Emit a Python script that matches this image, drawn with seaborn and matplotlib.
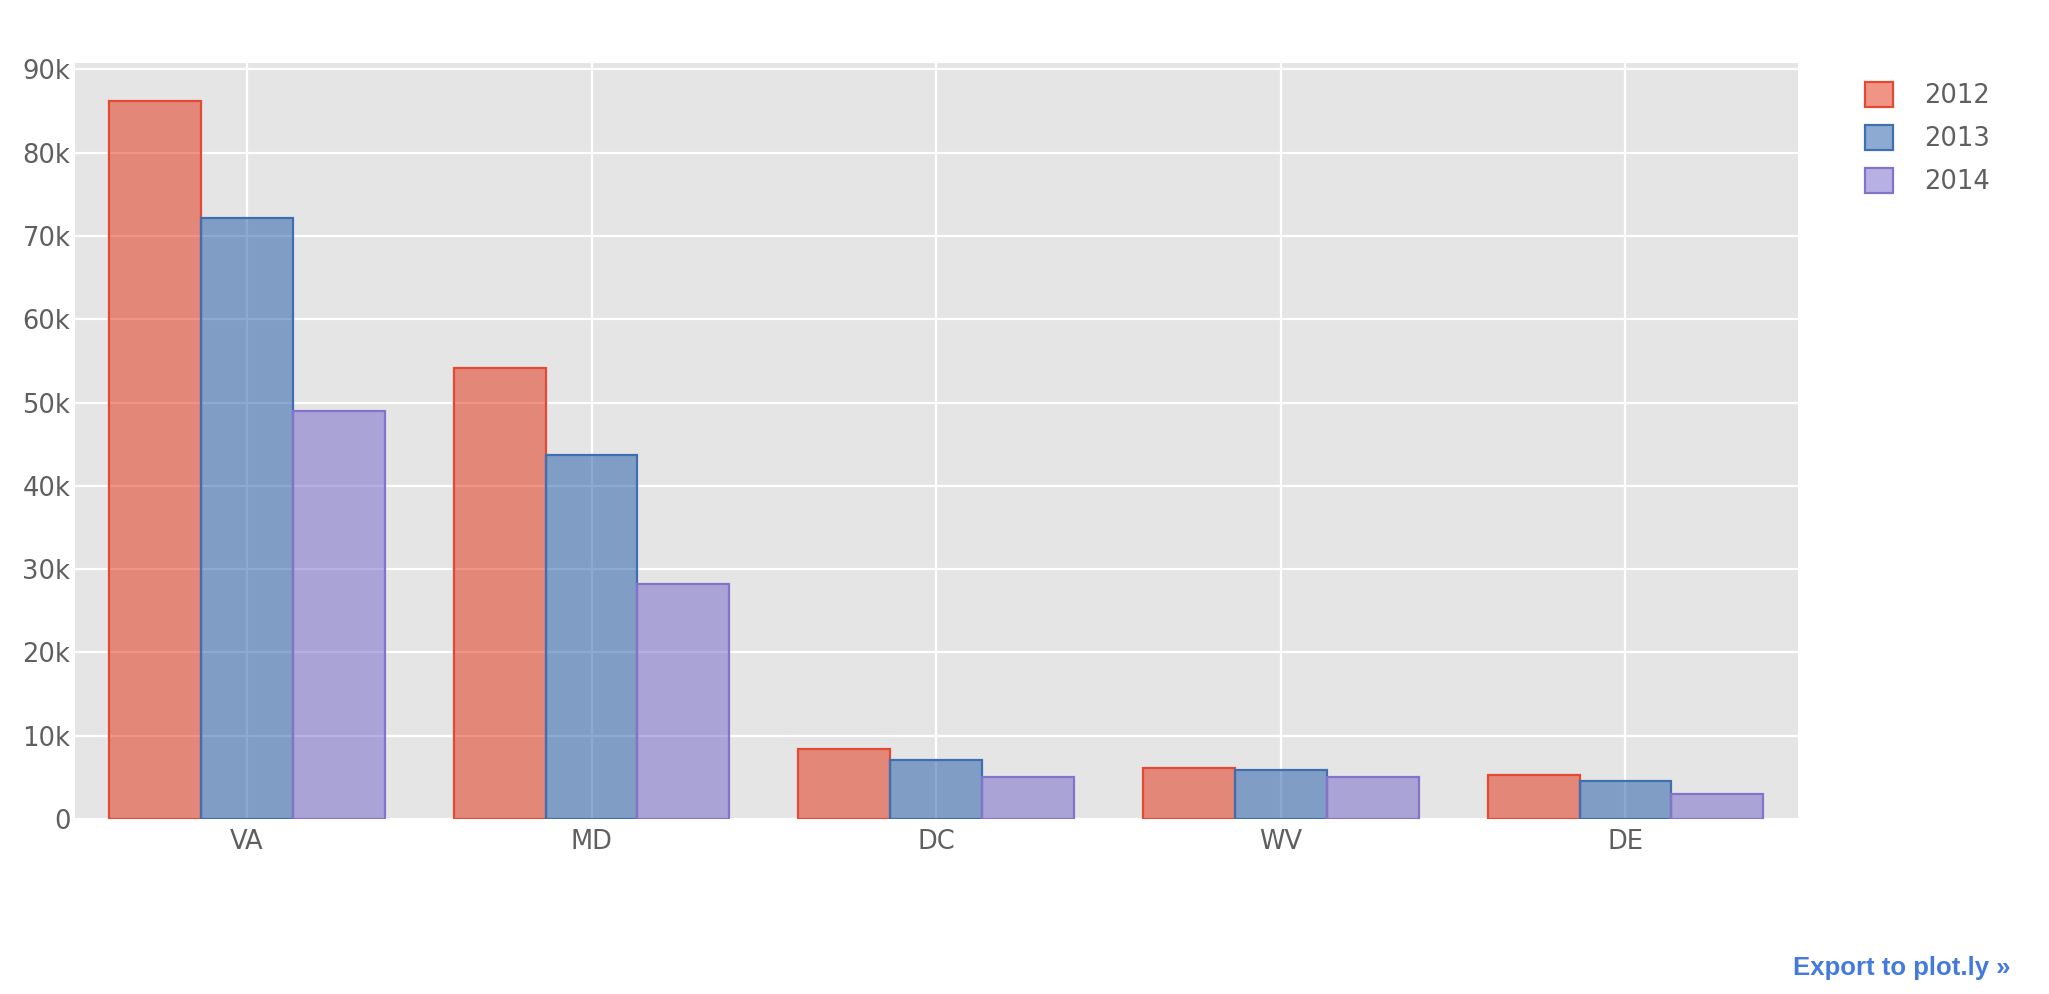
import pandas as pd
import seaborn as sns
import matplotlib
matplotlib.use('Agg')
import matplotlib.pyplot as plt
from matplotlib.colors import to_rgba
from matplotlib.patches import Patch

# values
states = ['VA', 'MD', 'DC', 'WV', 'DE']
years = ['2012', '2013', '2014']
vals_2012 = [86200, 54100, 8400, 6100, 5300]
vals_2013 = [72200, 43700, 7100, 5900, 4600]
vals_2014 = [49000, 28200, 5000, 5000, 3000]
y_ticks = [0, 10000, 20000, 30000, 40000, 50000, 60000, 70000, 80000, 90000]
y_tick_labels = ['0', '10k', '20k', '30k', '40k', '50k', '60k', '70k', '80k', '90k']

fill_colors = ['#E32B0F', '#1D59A7', '#7163C7']
edge_colors = ['#E24A33', '#3F6FB0', '#8572CB']

df = pd.DataFrame({
    'state': states * 3,
    'year': [y for y in years for _ in states],
    'value': vals_2012 + vals_2013 + vals_2014,
})

sns.set_style('darkgrid', {
    'axes.facecolor': '#E5E5E5',
    'grid.color': 'white',
    'axes.edgecolor': '#E5E5E5',
})
plt.rcParams['font.family'] = ['DejaVu Sans']
text_color = '#5F5F5F'

fig = plt.figure(figsize=(20.49, 9.94), dpi=100)
ax = fig.add_axes([0.0364, 0.176, 0.841, 0.7606])

sns.barplot(data=df, x='state', y='value', hue='year', hue_order=years,
            palette=fill_colors, width=0.8, errorbar=None,
            ax=ax, legend=False, zorder=2)

# semi-transparent fill, solid outline
for bars, fc, ec in zip(ax.containers, fill_colors, edge_colors):
    for b in bars:
        b.set_facecolor(to_rgba(fc, 0.5))
        b.set_edgecolor(ec)
        b.set_linewidth(1.6)

ax.set_xlim(-0.5, 4.5)
ax.set_ylim(0, 90760)
ax.set_yticks(y_ticks)
ax.set_yticklabels(y_tick_labels)
ax.grid(True, color='white', linewidth=1.6, zorder=0)
ax.set_axisbelow(True)
ax.tick_params(axis='both', length=0, labelsize=18.5, colors=text_color)
ax.tick_params(axis='y', pad=3)
ax.tick_params(axis='x', pad=7)
ax.set_xlabel('')
ax.set_ylabel('')
for s in ax.spines.values():
    s.set_visible(False)

handles = [Patch(facecolor=to_rgba(fc, 0.5), edgecolor=ec, linewidth=1.6)
           for fc, ec in zip(fill_colors, edge_colors)]
leg = fig.legend(handles, years, loc='upper left', bbox_to_anchor=(0.905, 0.928),
                 frameon=False, fontsize=18.5, handlelength=1.1, handleheight=1.1,
                 handletextpad=1.2, labelspacing=0.62, borderaxespad=0)
for t in leg.get_texts():
    t.set_color(text_color)

fig.text(0.981, 0.019, 'Export to plot.ly \u00bb', ha='right', va='baseline',
         color='#447ADB', fontsize=18.5, fontweight='bold', family='Liberation Sans')

fig.savefig('out.png', dpi=100)
plt.close(fig)
